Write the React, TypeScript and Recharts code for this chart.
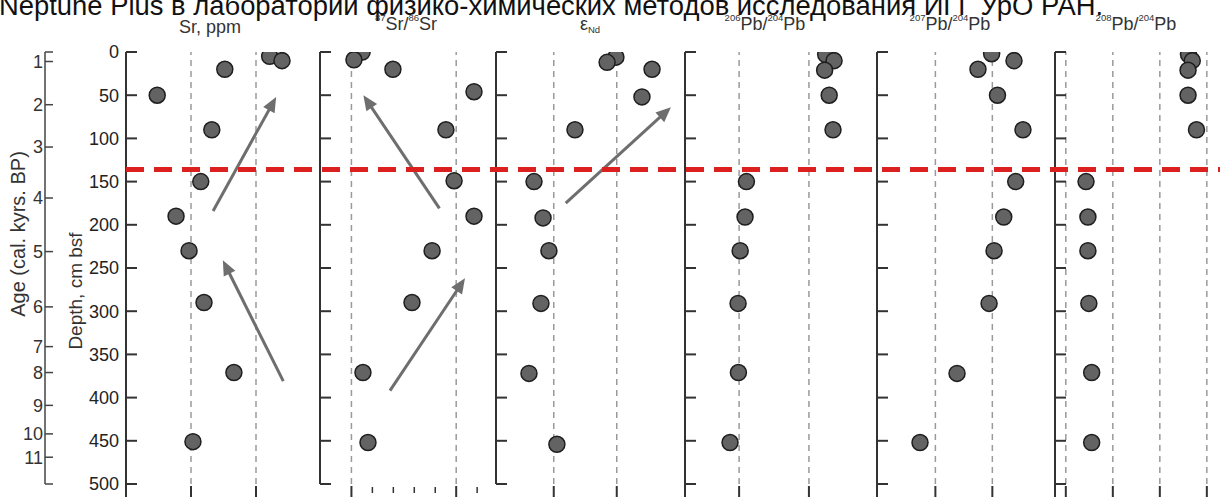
import React from "react";
import { ReferenceLine, Scatter, ScatterChart, XAxis, YAxis } from "recharts";

const H = 497;
const FONT = '"Liberation Sans", Arial, Helvetica, sans-serif';
const AXIS = "#333";
const GUIDE = "#9a9a9a";
const ARROW = "#6e6e6e";
const DOT_FILL = "#636363";
const RED = "#dc1f1f";

// depth axis (cm below sea floor)
const depthTicks = [0, 50, 100, 150, 200, 250, 300, 350, 400, 450, 500];
// age axis: label and the depth where its tick sits
const ageLabels = ["1", "2", "3", "4", "5", "6", "7", "8", "9", "10", "11"];
const ageDepths = [11, 61, 110, 169, 231, 295, 341, 371, 409, 442, 469];
const boundaryDepth = 136;

// Sr, ppm
const srDepth = [5, 10, 20, 50, 90, 150, 190, 230, 290, 371, 451];
const srPpm = [221, 240, 152, 48, 132, 115, 77, 97, 120, 166, 103];
const srGuides = [100, 200];

// 87Sr/86Sr
const srIsoDepth = [0, 9, 20, 46, 90, 149, 190, 230, 290, 371, 452];
const srIso = [0.71051, 0.71012, 0.71198, 0.71585, 0.71451, 0.7149, 0.71585, 0.71385, 0.71289, 0.71055, 0.71079];
const srIsoGuides = [0.71, 0.715];
const srIsoMinor = [0.711, 0.712, 0.713, 0.714, 0.716];

// eps Nd
const ndDepth = [6, 12, 20, 52, 90, 150, 192, 230, 291, 372, 454];
const epsNd = [-9.04, -9.46, -7.32, -7.8, -10.99, -12.94, -12.51, -12.23, -12.61, -13.18, -11.85];
const ndGuides = [-12, -9];

// 206Pb/204Pb
const pb206Depth = [3, 10, 21, 50, 90, 150, 191, 230, 291, 371, 452];
const pb206 = [18.948, 18.972, 18.945, 18.958, 18.969, 18.721, 18.717, 18.703, 18.697, 18.698, 18.674];
const pb206Guides = [18.7, 18.9];

// 207Pb/204Pb
const pb207Depth = [2, 10, 20, 50, 90, 150, 191, 230, 291, 372, 452];
const pb207 = [15.6595, 15.6752, 15.6499, 15.6636, 15.6815, 15.6764, 15.668, 15.6612, 15.6577, 15.6352, 15.6092];
const pb207Guides = [15.62, 15.66];

// 208Pb/204Pb
const pb208Depth = [3, 10, 21, 50, 90, 150, 191, 230, 291, 371, 452];
const pb208 = [38.861, 38.869, 38.86, 38.86, 38.878, 38.643, 38.647, 38.647, 38.649, 38.655, 38.655];
const pb208Guides = [38.6, 38.7, 38.8, 38.9];

type Arrow = { from: [number, number]; to: [number, number] };
const srArrows: Arrow[] = [
  { from: [242, 381], to: [149, 241] },
  { from: [134, 184], to: [231, 52] },
];
const srIsoArrows: Arrow[] = [
  { from: [0.7142, 181], to: [0.71057, 50] },
  { from: [0.71184, 392], to: [0.71542, 262] },
];
const ndArrows: Arrow[] = [{ from: [-11.43, 175], to: [-6.42, 64] }];

const Dot = (p: any) => (
  <circle cx={p.cx} cy={p.cy} r={8} fill={DOT_FILL} stroke="#1e1e1e" strokeWidth={1.5} />
);

const ArrowShape = (p: any) => {
  const { x1, y1, x2, y2 } = p;
  const len = Math.hypot(x2 - x1, y2 - y1) || 1;
  const ux = (x2 - x1) / len;
  const uy = (y2 - y1) / len;
  const head = 15;
  const half = 6.5;
  const bx = x2 - ux * head;
  const by = y2 - uy * head;
  return (
    <g>
      <line x1={x1} y1={y1} x2={bx + ux} y2={by + uy} stroke={ARROW} strokeWidth={3} />
      <polygon
        points={`${x2},${y2} ${bx - uy * half},${by + ux * half} ${bx + uy * half},${by - ux * half}`}
        fill={ARROW}
      />
    </g>
  );
};

const DepthTick = (p: any) => (
  <g>
    <line x1={p.x} y1={p.y} x2={p.x + 11} y2={p.y} stroke={AXIS} strokeWidth={2} />
    {p.showLabel && (
      <text x={p.x - 7} y={p.y} dy="0.35em" textAnchor="end" fontSize={18} fontFamily={FONT} fill="#222">
        {p.payload.value}
      </text>
    )}
  </g>
);

const AgeTick = (p: any) => {
  const i = ageDepths.indexOf(p.payload.value);
  return (
    <g>
      <line x1={p.x} y1={p.y} x2={p.x + 8} y2={p.y} stroke="#444" strokeWidth={1.5} />
      {i >= 0 && (
        <text x={p.x - 2} y={p.y} dy="0.35em" textAnchor="end" fontSize={18} fontFamily={FONT} fill="#333">
          {ageLabels[i]}
        </text>
      )}
    </g>
  );
};

const BottomTick = (p: any) => (
  <line
    x1={p.x}
    x2={p.x}
    y1={p.y + (p.major ? 2 : 3)}
    y2={p.y + (p.major ? 13 : 9)}
    stroke={AXIS}
    strokeWidth={p.major ? 2 : 1.5}
  />
);

interface PanelProps {
  left: number;
  width: number;
  domain: [number, number];
  values: number[];
  depths: number[];
  guides: number[];
  minor?: number[];
  arrows?: Arrow[];
  labels?: boolean;
  longAxis?: boolean;
}

// left = x of the panel's vertical axis, width = plot width
function Panel({ left, width, domain, values, depths, guides, minor = [], arrows = [], labels = false, longAxis = false }: PanelProps) {
  const data = values.map((v, i) => ({ v, d: depths[i] }));
  const axisW = labels ? 82 : 1;
  const divLeft = labels ? 0 : left - 1;
  const marginLeft = labels ? left - axisW : 0;
  return (
    <div style={{ position: "absolute", left: divLeft, top: 0 }}>
      <ScatterChart
        width={marginLeft + axisW + width}
        height={H}
        margin={{ top: 52, right: 0, bottom: 12, left: marginLeft }}
      >
        <XAxis
          type="number"
          dataKey="v"
          domain={domain}
          allowDataOverflow
          ticks={[...guides, ...minor]}
          interval={0}
          height={1}
          axisLine={false}
          tickLine={false}
          tickSize={0}
          tickMargin={0}
          tick={(t: any) => <BottomTick {...t} major={guides.includes(t.payload.value)} />}
        />
        <YAxis
          type="number"
          dataKey="d"
          domain={[0, 500]}
          allowDataOverflow
          reversed
          ticks={depthTicks}
          interval={0}
          width={axisW}
          axisLine={{ stroke: AXIS, strokeWidth: 2 }}
          tickLine={false}
          tickSize={0}
          tickMargin={0}
          tick={(t: any) => <DepthTick {...t} showLabel={labels} />}
        />
        {guides.map((g) => (
          <ReferenceLine key={g} x={g} stroke={GUIDE} strokeWidth={1.5} strokeDasharray="6 5" />
        ))}
        {longAxis && (
          <ReferenceLine
            segment={[{ x: domain[0], y: 0 }, { x: domain[0], y: 516 }]}
            ifOverflow="visible"
            stroke={AXIS}
            strokeWidth={2}
          />
        )}
        {arrows.map((a, i) => (
          <ReferenceLine
            key={i}
            segment={[{ x: a.from[0], y: a.from[1] }, { x: a.to[0], y: a.to[1] }]}
            shape={ArrowShape}
          />
        ))}
        <Scatter data={data} shape={Dot} isAnimationActive={false} />
      </ScatterChart>
    </div>
  );
}

function AgeAxis() {
  const data = ageDepths.map((d) => ({ v: 0, d }));
  return (
    <div style={{ position: "absolute", left: 0, top: 0 }}>
      <ScatterChart width={60} height={H} margin={{ top: 52, right: 0, bottom: 12, left: 44 }}>
        <XAxis type="number" dataKey="v" domain={[0, 1]} height={1} axisLine={false} tick={false} tickLine={false} />
        <YAxis
          type="number"
          dataKey="d"
          domain={[0, 500]}
          allowDataOverflow
          reversed
          ticks={[0, ...ageDepths, 500]}
          interval={0}
          width={1}
          axisLine={{ stroke: "#444", strokeWidth: 1.5 }}
          tickLine={false}
          tickSize={0}
          tickMargin={0}
          tick={(t: any) => <AgeTick {...t} />}
        />
        <Scatter data={data} shape={() => <g />} isAnimationActive={false} />
      </ScatterChart>
    </div>
  );
}

// red dashed boundary drawn across all panels
function Boundary() {
  const data = [
    { v: 0, d: boundaryDepth },
    { v: 1, d: boundaryDepth },
  ];
  return (
    <div style={{ position: "absolute", left: 126, top: 0 }}>
      <ScatterChart width={1094} height={H} margin={{ top: 52, right: 0, bottom: 13, left: 0 }}>
        <XAxis type="number" dataKey="v" domain={[0, 1]} hide />
        <YAxis type="number" dataKey="d" domain={[0, 500]} reversed hide />
        <Scatter
          data={data}
          shape={() => <g />}
          line={{ stroke: RED, strokeWidth: 5, strokeDasharray: "18 10" }}
          isAnimationActive={false}
        />
      </ScatterChart>
    </div>
  );
}

const Sup = ({ children }: { children: React.ReactNode }) => (
  <tspan fontSize={9.5} dy={-9}>
    {children}
  </tspan>
);
const Base = ({ children }: { children: React.ReactNode }) => <tspan dy={9}>{children}</tspan>;

function Labels() {
  const t = { fontFamily: FONT, fill: "#333", fontSize: 18, textAnchor: "middle" as const };
  return (
    <svg width={1220} height={H} style={{ position: "absolute", left: 0, top: 0, pointerEvents: "none" }}>
      <text x={-1} y={15} fontFamily={FONT} fontSize={27.4} fill="#111">
        Neptune Plus в лаборатории физико-химических методов исследования ИГГ УрО РАН.
      </text>
      <text {...t} x={210} y={33}>Sr, ppm</text>
      <text {...t} x={406} y={30}>
        <Sup>87</Sup>
        <Base>Sr/</Base>
        <Sup>86</Sup>
        <Base>Sr</Base>
      </text>
      <text {...t} x={590} y={30}>
        ε<tspan fontSize={9.5} dy={3}>Nd</tspan>
      </text>
      <text {...t} x={765} y={30}>
        <Sup>206</Sup>
        <Base>Pb/</Base>
        <Sup>204</Sup>
        <Base>Pb</Base>
      </text>
      <text {...t} x={950} y={30}>
        <Sup>207</Sup>
        <Base>Pb/</Base>
        <Sup>204</Sup>
        <Base>Pb</Base>
      </text>
      <text {...t} x={1136} y={30}>
        <Sup>208</Sup>
        <Base>Pb/</Base>
        <Sup>204</Sup>
        <Base>Pb</Base>
      </text>
      <text {...t} fontSize={20} transform="translate(25,234) rotate(-90)">
        Age (cal. kyrs. BP)
      </text>
      <text {...t} fontSize={19} transform="translate(82,291) rotate(-90)">
        Depth, cm bsf
      </text>
    </svg>
  );
}

export default function App() {
  return (
    <div
      style={{
        position: "absolute",
        left: 0,
        top: 0,
        width: 1220,
        height: H,
        overflow: "hidden",
        background: "#fff",
        fontFamily: FONT,
      }}
    >
      <AgeAxis />
      <Panel left={126} width={195} domain={[0, 300]} values={srPpm} depths={srDepth} guides={srGuides} arrows={srArrows} labels longAxis />
      <Panel left={320} width={176} domain={[0.7085, 0.7169]} values={srIso} depths={srIsoDepth} guides={srIsoGuides} minor={srIsoMinor} arrows={srIsoArrows} />
      <Panel left={496} width={189} domain={[-14.75, -5.75]} values={epsNd} depths={ndDepth} guides={ndGuides} arrows={ndArrows} />
      <Panel left={685} width={192} domain={[18.545, 19.095]} values={pb206} depths={pb206Depth} guides={pb206Guides} longAxis />
      <Panel left={877} width={178} domain={[15.579, 15.704]} values={pb207} depths={pb207Depth} guides={pb207Guides} longAxis />
      <Panel left={1055} width={165} domain={[38.577, 38.928]} values={pb208} depths={pb208Depth} guides={pb208Guides} longAxis />
      <Boundary />
      <Labels />
    </div>
  );
}
